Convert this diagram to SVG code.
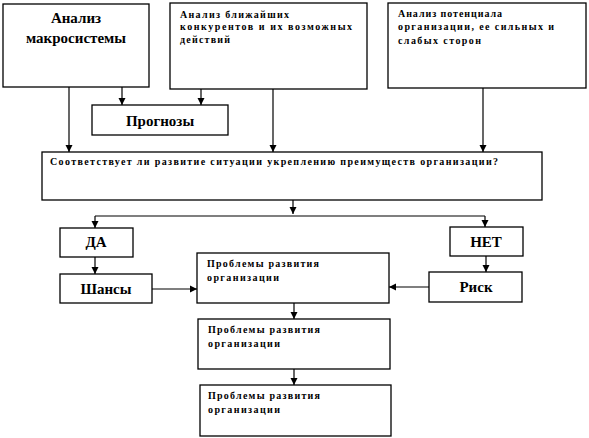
<svg xmlns="http://www.w3.org/2000/svg" width="589" height="438" viewBox="0 0 589 438">
<style>
.box{fill:#fff;stroke:#000;stroke-width:1.3}
text{font-family:"Liberation Serif","Times New Roman","DejaVu Serif",serif;font-weight:bold;fill:#000}
.big{font-size:15px}
.sm{font-size:10px}
.ln{fill:none;stroke:#000;stroke-width:1.2}
</style>
<defs>
<marker id="ah" markerWidth="8" markerHeight="8" refX="7" refY="4" orient="auto" markerUnits="userSpaceOnUse">
<path d="M0,0.5 L7,4 L0,7.5 Z" fill="#000"/>
</marker>
</defs>
<rect width="589" height="438" fill="#fff"/>
<g id="connectors">
<path class="ln" d="M69,87 V152" marker-end="url(#ah)"/>
<path class="ln" d="M122,87 V105" marker-end="url(#ah)"/>
<path class="ln" d="M201,89 V105" marker-end="url(#ah)"/>
<path class="ln" d="M273,89 V152" marker-end="url(#ah)"/>
<path class="ln" d="M483,88 V152" marker-end="url(#ah)"/>
<path class="ln" d="M293,200 V214" marker-end="url(#ah)"/>
<path class="ln" d="M95,216 H485"/>
<path class="ln" d="M95,216 V228" marker-end="url(#ah)"/>
<path class="ln" d="M485,216 V227" marker-end="url(#ah)"/>
<path class="ln" d="M95,257 V274" marker-end="url(#ah)"/>
<path class="ln" d="M486,256 V272" marker-end="url(#ah)"/>
<path class="ln" d="M152,289 H197" marker-end="url(#ah)"/>
<path class="ln" d="M429,287 H389" marker-end="url(#ah)"/>
<path class="ln" d="M294,303 V319" marker-end="url(#ah)"/>
<path class="ln" d="M294,369 V385" marker-end="url(#ah)"/>
</g>
<g id="n1"><rect class="box" x="3" y="4" width="146" height="83"/>
<text class="big" x="76" y="23" text-anchor="middle">Анализ</text>
<text class="big" x="76" y="43" text-anchor="middle">макросистемы</text></g>
<g id="n2"><rect class="box" x="170" y="3" width="197" height="86"/>
<text class="sm" x="180" y="18" textLength="109" lengthAdjust="spacing">Анализ ближайших</text>
<text class="sm" x="180" y="30" textLength="172" lengthAdjust="spacing">конкурентов и их возможных</text>
<text class="sm" x="180" y="43" textLength="50" lengthAdjust="spacing">действий</text></g>
<g id="n3"><rect class="box" x="388" y="3" width="198" height="85"/>
<text class="sm" x="398" y="17" textLength="104" lengthAdjust="spacing">Анализ потенциала</text>
<text class="sm" x="398" y="30" textLength="156" lengthAdjust="spacing">организации, ее сильных и</text>
<text class="sm" x="398" y="44" textLength="83" lengthAdjust="spacing">слабых сторон</text></g>
<g id="n4"><rect class="box" x="92" y="105" width="136" height="30"/>
<text class="big" x="160" y="126" text-anchor="middle">Прогнозы</text></g>
<g id="n5"><rect class="box" x="42" y="152" width="500" height="48"/>
<text class="sm" x="50" y="165" textLength="448" lengthAdjust="spacing">Соответствует ли развитие ситуации укреплению преимуществ организации?</text></g>
<g id="n6"><rect class="box" x="60" y="228" width="73" height="29"/>
<text class="big" x="96" y="247" text-anchor="middle">ДА</text></g>
<g id="n7"><rect class="box" x="450" y="227" width="73" height="29"/>
<text class="big" x="486" y="247" text-anchor="middle">НЕТ</text></g>
<g id="n8"><rect class="box" x="60" y="274" width="92" height="29"/>
<text class="big" x="106" y="294" text-anchor="middle">Шансы</text></g>
<g id="n9"><rect class="box" x="429" y="272" width="93" height="30"/>
<text class="big" x="476" y="292" text-anchor="middle">Риск</text></g>
<g id="n10"><rect class="box" x="197" y="253" width="192" height="50"/>
<text class="sm" x="207" y="267" textLength="112" lengthAdjust="spacing">Проблемы развития</text>
<text class="sm" x="207" y="281" textLength="72" lengthAdjust="spacing">организации</text></g>
<g id="n11"><rect class="box" x="198" y="319" width="192" height="50"/>
<text class="sm" x="208" y="333" textLength="112" lengthAdjust="spacing">Проблемы развития</text>
<text class="sm" x="208" y="347" textLength="72" lengthAdjust="spacing">организации</text></g>
<g id="n12"><rect class="box" x="200" y="385" width="191" height="51"/>
<text class="sm" x="208" y="399" textLength="112" lengthAdjust="spacing">Проблемы развития</text>
<text class="sm" x="208" y="413" textLength="72" lengthAdjust="spacing">организации</text></g>
</svg>
